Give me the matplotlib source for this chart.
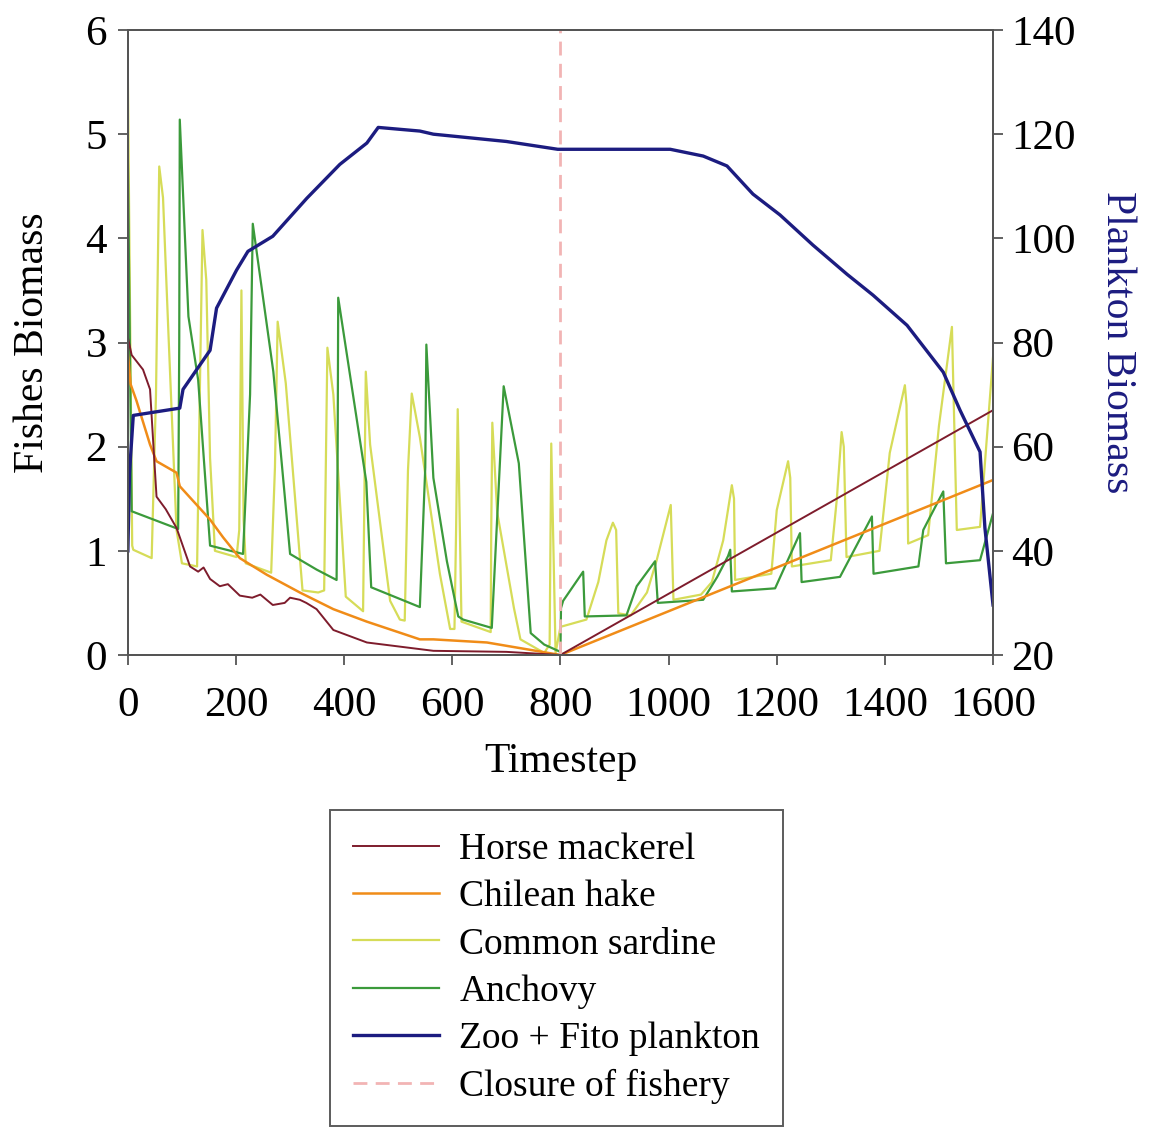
import matplotlib.pyplot as plt
from matplotlib.lines import Line2D

plt.rcParams['font.family'] = ['Liberation Serif', 'DejaVu Serif']

# ---- data (timestep, biomass) ----
horse_x = [0, 7, 28, 41, 47, 53, 70, 90, 115, 130, 140, 152, 170, 185, 207, 230, 245, 268,
           290, 300, 318, 330, 349, 380, 442, 565, 700, 800, 1600]
horse_y = [3.05, 2.88, 2.74, 2.55, 2.03, 1.52, 1.40, 1.22, 0.85, 0.80, 0.84, 0.73, 0.66, 0.68,
           0.57, 0.55, 0.58, 0.48, 0.50, 0.55, 0.53, 0.50, 0.44, 0.24, 0.12, 0.04, 0.03, 0.0, 2.35]

hake_x = [0, 5, 16, 41, 53, 90, 96, 152, 176, 207, 257, 318, 380, 442, 540, 565, 664, 800, 1600]
hake_y = [2.9, 2.6, 2.44, 2.02, 1.86, 1.75, 1.62, 1.30, 1.13, 0.93, 0.77, 0.60, 0.44, 0.32,
          0.15, 0.15, 0.12, 0.0, 1.68]

sardine_x = [0, 8, 10, 44, 52, 58, 65, 75, 90, 100, 128, 133, 138, 145, 152, 161, 201, 206,
             210, 214, 218, 265, 272, 277, 292, 323, 352, 363, 369, 380, 403, 435, 438, 440,
             448, 485, 503, 512, 518, 525, 540, 577, 596, 604, 607, 610, 617, 671, 672, 674,
             683, 714, 726, 770, 780, 783, 791, 800, 848, 870, 885, 897, 903, 907, 930, 960,
             978, 1004, 1009, 1060, 1080, 1101, 1117, 1121, 1123, 1190, 1200, 1221, 1225, 1228,
             1300, 1311, 1320, 1324, 1329, 1390, 1409, 1437, 1440, 1443, 1480, 1500, 1524,
             1533, 1576, 1600]
sardine_y = [5.55, 1.05, 1.01, 0.93, 2.5, 4.69, 4.39, 3.09, 1.2, 0.88, 0.85, 2.5, 4.08, 3.6,
             1.89, 1.0, 0.94, 1.2, 3.50, 1.3, 0.88, 0.79, 1.8, 3.20, 2.61, 0.62, 0.6, 0.62, 2.95,
             2.5, 0.56, 0.42, 1.8, 2.72, 2.02, 0.52, 0.34, 0.33, 1.77, 2.51, 2.09, 0.78, 0.25,
             0.25, 1.2, 2.36, 0.32, 0.22, 1.2, 2.23, 1.37, 0.45, 0.15, 0.02, 0.1, 2.03, 0.02,
             0.27, 0.34, 0.7, 1.1, 1.27, 1.2, 0.40, 0.38, 0.6, 0.91, 1.44, 0.53, 0.58, 0.7, 1.10,
             1.63, 1.5, 0.72, 0.78, 1.39, 1.86, 1.7, 0.85, 0.91, 1.49, 2.14, 2.0, 0.94, 1.0, 1.94,
             2.59, 2.4, 1.07, 1.15, 2.2, 3.15, 1.2, 1.23, 2.86]

anchovy_x = [0, 7, 93, 95, 96, 112, 130, 152, 213, 226, 231, 269, 300, 349, 386, 388, 389,
             441, 450, 540, 550, 552, 565, 590, 611, 620, 673, 680, 695, 723, 745, 770, 800,
             801, 805, 842, 845, 922, 941, 975, 980, 1064, 1090, 1110, 1114, 1117, 1197, 1243,
             1246, 1317, 1376, 1379, 1462, 1471, 1508, 1513, 1576, 1600]
anchovy_y = [4.75, 1.38, 1.21, 3.0, 5.14, 3.25, 2.64, 1.05, 0.97, 2.5, 4.14, 2.72, 0.97, 0.82,
             0.72, 2.0, 3.43, 1.66, 0.65, 0.46, 1.8, 2.98, 1.70, 0.9, 0.37, 0.34, 0.26, 1.0,
             2.58, 1.84, 0.21, 0.10, 0.03, 0.45, 0.52, 0.80, 0.37, 0.38, 0.66, 0.90, 0.50, 0.53,
             0.75, 0.95, 1.01, 0.61, 0.64, 1.17, 0.70, 0.75, 1.33, 0.78, 0.85, 1.2, 1.57, 0.88,
             0.91, 1.36]

plankton_x = [0, 3, 10, 96, 102, 152, 164, 201, 222, 268, 331, 392, 442, 463, 540, 565, 700,
              795, 1003, 1064, 1108, 1156, 1206, 1267, 1330, 1378, 1441, 1508, 1539, 1576, 1585,
              1600]
plankton_y = [40, 55, 66, 67.4, 71, 78.5, 86.6, 93.9, 97.5, 100.4, 107.7, 114.2, 118.3, 121.3,
              120.6, 120.0, 118.6, 117.1, 117.1, 115.8, 113.9, 108.5, 104.5, 98.7, 93.1, 89.1,
              83.3, 74.3, 67.0, 59.0, 44.4, 29.6]

closure_x = 800

labels = ['Horse mackerel', 'Chilean hake', 'Common sardine', 'Anchovy',
          'Zoo + Fito plankton', 'Closure of fishery']
c_horse = '#7e1c2c'
c_hake = '#f08c18'
c_sardine = '#d6dc58'
c_anchovy = '#3b9a3b'
c_plankton = '#1c1c80'
c_closure = '#f2b4b4'

fig = plt.figure(figsize=(11.52, 11.33), dpi=100)
ax = fig.add_axes([0.111, 0.4219, 0.751, 0.5516])
ax2 = ax.twinx()

ax.plot(sardine_x, sardine_y, color=c_sardine, lw=1.6)
ax.plot(anchovy_x, anchovy_y, color=c_anchovy, lw=1.6)
ax.plot(hake_x, hake_y, color=c_hake, lw=1.8)
ax.plot(horse_x, horse_y, color=c_horse, lw=1.4)
ax.axvline(closure_x, color=c_closure, lw=2, ls=(0, (5, 3)))
ax2.plot(plankton_x, plankton_y, color=c_plankton, lw=2.4)

ax.set_xlim(0, 1600)
ax.set_ylim(0, 6)
ax2.set_ylim(20, 140)
ax.set_xticks(range(0, 1601, 200))
ax.set_yticks(range(0, 7))
ax2.set_yticks(range(20, 141, 20))

for a in (ax, ax2):
    for s in a.spines.values():
        s.set_color('#555555')
        s.set_linewidth(1.4)
    a.tick_params(direction='out', length=7, width=1.3, color='#555555', labelsize=31)
ax.tick_params(axis='x', pad=16)
ax.tick_params(axis='y', pad=8)
ax2.tick_params(axis='y', pad=6)

ax.set_xlabel('Timestep', fontsize=30, labelpad=12)
ax.set_ylabel('Fishes Biomass', fontsize=30, labelpad=24)
ax2.set_ylabel('Plankton Biomass', fontsize=30, color=c_plankton, rotation=270, labelpad=44)

handles = [Line2D([], [], color=c_horse, lw=1.4),
           Line2D([], [], color=c_hake, lw=1.8),
           Line2D([], [], color=c_sardine, lw=1.6),
           Line2D([], [], color=c_anchovy, lw=1.6),
           Line2D([], [], color=c_plankton, lw=2.4),
           Line2D([], [], color=c_closure, lw=2, ls=(0, (5, 3)))]
leg = fig.legend(handles, labels, loc='upper left', bbox_to_anchor=(0.2865, 0.285),
                 fontsize=27, frameon=True, fancybox=False, handlelength=2.3,
                 handletextpad=0.55, labelspacing=0.34, borderpad=0.6, borderaxespad=0)
leg.get_frame().set_edgecolor('#333333')
leg.get_frame().set_linewidth(1.4)

fig.savefig('out.png', dpi=100)
